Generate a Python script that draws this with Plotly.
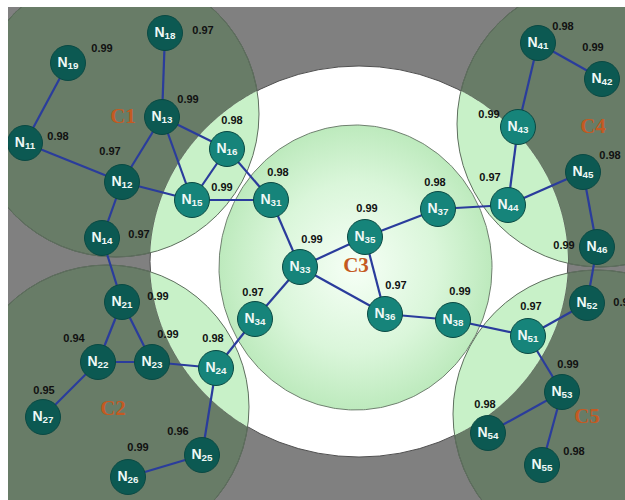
import numpy as np
import plotly.graph_objects as go

# ---------------- data ----------------
node_names = ["11", "12", "13", "14", "15", "16", "18", "19",
              "21", "22", "23", "24", "25", "26", "27",
              "31", "33", "34", "35", "36", "37", "38",
              "41", "42", "43", "44", "45", "46",
              "51", "52", "53", "54", "55"]
node_x = [25, 122, 162, 102, 192, 227, 165, 68,
          122, 98, 152, 216, 202, 128, 43,
          271, 300, 255, 365, 385, 438, 453,
          538, 602, 518, 508, 583, 597,
          528, 587, 562, 488, 542]
node_y = [143, 182, 117, 238, 200, 149, 33, 63,
          302, 362, 362, 368, 455, 477, 417,
          200, 267, 319, 237, 314, 209, 320,
          43, 79, 127, 205, 172, 247,
          336, 303, 392, 433, 465]
node_light = [0, 0, 0, 0, 1, 1, 0, 0,
              0, 0, 0, 1, 0, 0, 0,
              1, 1, 1, 1, 1, 1, 1,
              0, 0, 1, 1, 0, 0,
              1, 0, 0, 0, 0]
node_values = ["0.98", "0.97", "0.99", "0.97", "0.99", "0.98", "0.97", "0.99",
               "0.99", "0.94", "0.99", "0.98", "0.96", "0.99", "0.95",
               "0.98", "0.99", "0.97", "0.99", "0.97", "0.98", "0.99",
               "0.98", "0.99", "0.99", "0.97", "0.98", "0.99",
               "0.97", "0.98", "0.99", "0.98", "0.98"]
value_x = [58, 110, 188, 139, 222, 232, 203, 102,
           158, 74, 168, 213, 178, 138, 44,
           278, 312, 253, 367, 396, 435, 460,
           563, 593, 489, 490, 610, 564,
           531, 624, 568, 485, 574]
value_y = [137, 152, 100, 235, 188, 121, 31, 49,
           297, 339, 335, 339, 432, 448, 391,
           173, 240, 293, 209, 286, 183, 292,
           27, 48, 115, 178, 156, 246,
           307, 303, 365, 405, 452]

edges = [("19", "11"), ("11", "12"), ("18", "13"), ("13", "12"), ("13", "16"),
         ("13", "15"), ("12", "15"), ("12", "14"), ("16", "15"), ("16", "31"),
         ("15", "31"), ("14", "21"), ("21", "22"), ("21", "23"), ("22", "23"),
         ("22", "27"), ("23", "24"), ("24", "34"), ("24", "25"), ("25", "26"),
         ("34", "33"), ("31", "33"), ("33", "35"), ("33", "36"), ("35", "36"),
         ("35", "37"), ("37", "44"), ("36", "38"), ("38", "51"), ("43", "41"),
         ("41", "42"), ("43", "44"), ("44", "45"), ("45", "46"), ("46", "52"),
         ("52", "51"), ("51", "53"), ("53", "54"), ("53", "55")]

cluster_names = ["C1", "C2", "C3", "C4", "C5"]
cluster_label_x = [123, 113, 356, 593, 587]
cluster_label_y = [118, 410, 267, 128, 418]
outer_cx = [116, 107, 600, 597]
outer_cy = [114, 407, 124, 414]
outer_r = [143, 142, 143, 144]
c3_box = [219, 125, 492, 410]        # x0, y0, x1, y1
halo_box = [150, 66, 568, 457]       # x0, y0, x1, y1
frame_box = [8, 7, 625, 500]         # gray picture area inside white paper

# ---------------- styles ----------------
GRAY = "#808080"
DARK = "#687c67"
LIGHT = "#c8f1c8"
EDGE = "#2a3c9c"
NODE_DARK = "#0c5952"
NODE_LIGHT = "#16847a"

W, H = 625, 500

fig = go.Figure()
shapes = []
for cx, cy, r in zip(outer_cx, outer_cy, outer_r):
    shapes.append(dict(type="circle", x0=cx - r, y0=cy - r, x1=cx + r, y1=cy + r,
                       fillcolor=DARK, line=dict(color="#4d5d4d", width=1), layer="below"))

ex = (halo_box[0] + halo_box[2]) / 2
ey = (halo_box[1] + halo_box[3]) / 2
erx = (halo_box[2] - halo_box[0]) / 2
ery = (halo_box[3] - halo_box[1]) / 2
shapes.append(dict(type="circle", x0=halo_box[0], y0=halo_box[1], x1=halo_box[2], y1=halo_box[3],
                   fillcolor="white", line=dict(color="#505050", width=1), layer="below"))

# intersections of outer clusters with white halo -> light green
t = np.linspace(0, 2 * np.pi, 1440, endpoint=False)
for cx, cy, r in zip(outer_cx, outer_cy, outer_r):
    px = cx + r * np.cos(t)
    py = cy + r * np.sin(t)
    inside_e = ((px - ex) / erx) ** 2 + ((py - ey) / ery) ** 2 <= 1
    qx = ex + erx * np.cos(t)
    qy = ey + ery * np.sin(t)
    inside_c = (qx - cx) ** 2 + (qy - cy) ** 2 <= r ** 2
    allx = np.concatenate([px[inside_e], qx[inside_c]])
    ally = np.concatenate([py[inside_e], qy[inside_c]])
    if len(allx) < 3:
        continue
    mx, my = allx.mean(), ally.mean()
    order = np.argsort(np.arctan2(ally - my, allx - mx))
    allx, ally = allx[order], ally[order]
    path = "M " + " L ".join(f"{a:.2f},{b:.2f}" for a, b in zip(allx, ally)) + " Z"
    shapes.append(dict(type="path", path=path, fillcolor=LIGHT, line=dict(width=0), layer="below"))
# outlines of outer clusters over the halo
for cx, cy, r in zip(outer_cx, outer_cy, outer_r):
    shapes.append(dict(type="circle", x0=cx - r, y0=cy - r, x1=cx + r, y1=cy + r,
                       fillcolor="rgba(0,0,0,0)", line=dict(color="#5f6f5f", width=1), layer="below"))

# C3 core with radial gradient
c3x = (c3_box[0] + c3_box[2]) / 2
c3y = (c3_box[1] + c3_box[3]) / 2
c3rx = (c3_box[2] - c3_box[0]) / 2
c3ry = (c3_box[3] - c3_box[1]) / 2
tt = np.linspace(0, 2 * np.pi, 400)
fig.add_trace(go.Scatter(x=c3x + c3rx * np.cos(tt), y=c3y + c3ry * np.sin(tt),
                         mode="lines", fill="toself",
                         line=dict(color="#6f806f", width=1),
                         fillgradient=dict(type="radial",
                                           colorscale=[[0, "#f6fff6"], [0.6, "#daf6da"], [1, "#bdeabd"]]),
                         hoverinfo="skip", showlegend=False))

# edges
pos = {n: (x, y) for n, x, y in zip(node_names, node_x, node_y)}
exs, eys = [], []
for a, b in edges:
    exs += [pos[a][0], pos[b][0], None]
    eys += [pos[a][1], pos[b][1], None]
fig.add_trace(go.Scatter(x=exs, y=eys, mode="lines", line=dict(color=EDGE, width=2.2),
                         hoverinfo="skip", showlegend=False))

# nodes
fig.add_trace(go.Scatter(
    x=node_x, y=node_y, mode="markers+text",
    marker=dict(size=35, color=[NODE_LIGHT if l else NODE_DARK for l in node_light],
                line=dict(color="#0a4943", width=1)),
    text=[f"N<sub>{n}</sub>" for n in node_names],
    textposition="middle center",
    textfont=dict(family="Liberation Sans, Arial", size=14, color="#eef8f6", weight="bold"),
    hoverinfo="skip", showlegend=False, cliponaxis=True))

# values
fig.add_trace(go.Scatter(
    x=value_x, y=value_y, mode="text", text=node_values,
    textposition="middle center",
    textfont=dict(family="Liberation Sans, Arial", size=11, color="#111111", weight="bold"),
    hoverinfo="skip", showlegend=False, cliponaxis=True))

# cluster labels
fig.add_trace(go.Scatter(
    x=cluster_label_x, y=cluster_label_y, mode="text", text=cluster_names,
    textposition="middle center",
    textfont=dict(family="Liberation Serif, Times New Roman", size=21, color="#c45a22", weight="bold"),
    hoverinfo="skip", showlegend=False))

fig.update_layout(
    width=W, height=H,
    margin=dict(l=frame_box[0], r=W - frame_box[2], t=frame_box[1], b=H - frame_box[3], pad=0),
    paper_bgcolor="white", plot_bgcolor=GRAY,
    shapes=shapes, hovermode=False,
    xaxis=dict(range=[frame_box[0], frame_box[2]], visible=False, fixedrange=True),
    yaxis=dict(range=[frame_box[3], frame_box[1]], visible=False, fixedrange=True),
)
fig.write_html("out.html", config={"displayModeBar": False, "staticPlot": True},
               post_script="document.body.style.margin='0';document.body.style.overflow='hidden';")
